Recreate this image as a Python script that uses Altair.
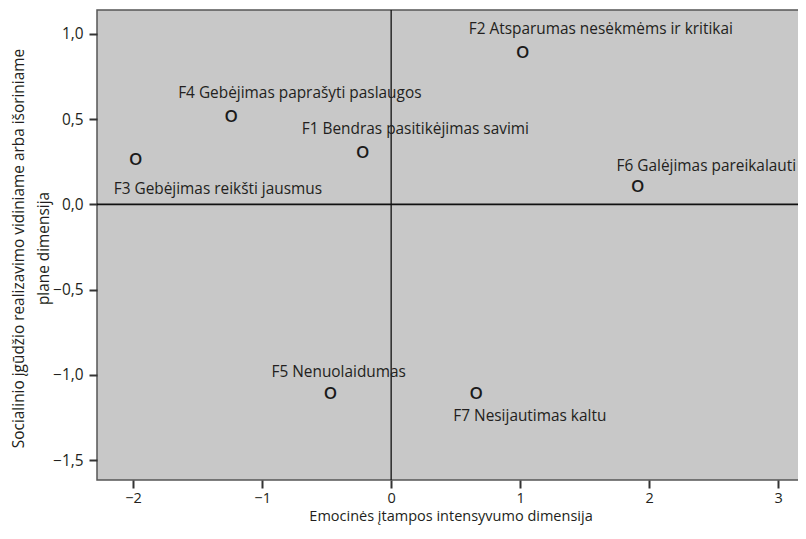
import altair as alt
import pandas as pd

labels = ["F1 Bendras pasitikėjimas savimi", "F2 Atsparumas nesėkmėms ir kritikai",
          "F3 Gebėjimas reikšti jausmus", "F4 Gebėjimas paprašyti paslaugos",
          "F5 Nenuolaidumas", "F6 Galėjimas pareikalauti", "F7 Nesijautimas kaltu"]
x_vals = [-0.22, 1.02, -1.98, -1.24, -0.47, 1.91, 0.66]
y_vals = [0.30, 0.89, 0.26, 0.51, -1.11, 0.10, -1.11]
# label offsets (pixels) relative to each point
label_dx = [-61, -54, -22, -53, -59, -21, -23]
label_dy = [-24, -24, 29, -24, -22, -21, 22]

x_ticks = [-2, -1, 0, 1, 2, 3]
y_ticks = [-1.5, -1.0, -0.5, 0.0, 0.5, 1.0]

df = pd.DataFrame({"label": labels, "x": x_vals, "y": y_vals})
zero = pd.DataFrame({"z": [0]})

FONT = "Open Sans"
TXT = "#231f20"
FS = 15.4
XFS = 14.5

xscale = alt.Scale(domain=[-2.28, 3.2], nice=False, zero=False)
yscale = alt.Scale(domain=[-1.617, 1.14], nice=False, zero=False)

xenc = alt.X("x:Q", scale=xscale,
             axis=alt.Axis(values=x_ticks, format="d", title="Emocinės įtampos intensyvumo dimensija",
                           grid=False, domain=False, tickSize=8, tickWidth=2,
                           tickColor="#333333", labelFontSize=XFS, titleFontSize=XFS,
                           labelPadding=3, titlePadding=5, labelFont=FONT, titleFont=FONT,
                           labelColor=TXT, titleColor=TXT, titleFontWeight="normal"))
yenc = alt.Y("y:Q", scale=yscale,
             axis=alt.Axis(values=y_ticks,
                           title=["Socialinio įgūdžio realizavimo vidiniame arba išoriniame", "plane dimensija"],
                           labelExpr="replace(format(datum.value, '.1f'), '.', ',')",
                           grid=False, domain=False, tickSize=8, tickWidth=2,
                           tickColor="#333333", labelFontSize=FS, titleFontSize=FS,
                           titleLineHeight=25, titleX=-86, titleY=238, titleBaseline="top",
                           titleAlign="center",
                           labelPadding=6, labelFont=FONT, titleFont=FONT,
                           labelColor=TXT, titleColor=TXT, titleFontWeight="normal"))

vline = alt.Chart(zero).mark_rule(color="#111111", strokeWidth=1.3).encode(x=alt.X("z:Q", scale=xscale))
hline = alt.Chart(zero).mark_rule(color="#111111", strokeWidth=1.6).encode(y=alt.Y("z:Q", scale=yscale))

points = alt.Chart(df).mark_text(text="O", font=FONT, fontSize=17, fontWeight=600,
                                 color="#1a1a1a", baseline="middle").encode(x=xenc, y=yenc)

layers = [vline, hline, points]
for i, lab in enumerate(labels):
    sub = df.iloc[[i]]
    layers.append(
        alt.Chart(sub).mark_text(align="left", baseline="middle", dx=label_dx[i], dy=label_dy[i],
                                 font=FONT, fontSize=FS, color=TXT)
        .encode(x=alt.X("x:Q", scale=xscale), y=alt.Y("y:Q", scale=yscale), text="label:N")
    )

chart = alt.layer(*layers).properties(
    width=707, height=470,
    autosize=alt.AutoSizeParams(type="none"),
    padding={"left": 89, "top": 2, "right": -6, "bottom": 50},
).configure_view(fill="#c8c8c8", stroke="#555555", strokeWidth=1.5)

chart.save("out.html", embed_options={"renderer": "svg", "actions": False})
